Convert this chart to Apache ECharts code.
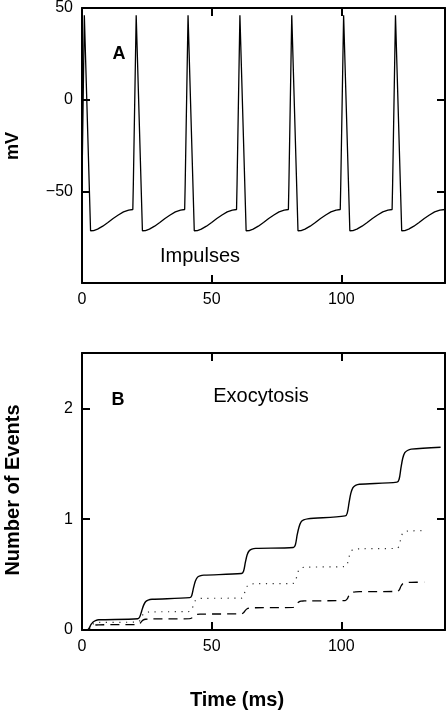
<!DOCTYPE html>
<html><head><meta charset="utf-8">
<script src="https://cdn.jsdelivr.net/npm/echarts@6/dist/echarts.min.js"></script>
<style>html,body{margin:0;padding:0;background:#fff}#c{width:448px;height:713px}</style>
</head><body><div id="c"></div>
<script>
// Panel A: membrane potential (ms, mV)
const vmT = [0,0.9,3.3,4.5,6,8,10,12,14,16,18,19.6,
  19.8,20.9,23.3,24.5,26,28,30,32,34,36,38,39.6,
  39.8,40.9,43.3,44.5,46,48,50,52,54,56,58,59.6,
  59.8,60.9,63.3,64.5,66,68,70,72,74,76,78,79.6,
  79.8,80.9,83.3,84.5,86,88,90,92,94,96,98,99.6,
  99.8,100.9,103.3,104.5,106,108,110,112,114,116,118,119.6,
  119.8,120.9,123.3,124.5,126,128,130,132,134,136,138,140];
const vmV = [-46,46,-71.5,-71.4,-70.6,-69.0,-67.0,-64.8,-62.9,-61.2,-60.2,-59.9,
  -46,46,-71.5,-71.4,-70.6,-69.0,-67.0,-64.8,-62.9,-61.2,-60.2,-59.9,
  -46,46,-71.5,-71.4,-70.6,-69.0,-67.0,-64.8,-62.9,-61.2,-60.2,-59.9,
  -46,46,-71.5,-71.4,-70.6,-69.0,-67.0,-64.8,-62.9,-61.2,-60.2,-59.9,
  -46,46,-71.5,-71.4,-70.6,-69.0,-67.0,-64.8,-62.9,-61.2,-60.2,-59.9,
  -46,46,-71.5,-71.4,-70.6,-69.0,-67.0,-64.8,-62.9,-61.2,-60.2,-59.9,
  -46,46,-71.5,-71.4,-70.6,-69.0,-67.0,-64.8,-62.9,-61.2,-60.2,-59.9];

// Panel B: cumulative exocytosis events
const solidT = [0,2,2.8,3.5,4.3,5.2,6.5,21.5,22.3,23,23.7,24.5,25.5,27,41.5,42.3,43,43.7,44.5,45.5,47,61.5,
  62.3,63,63.7,64.5,65.5,67,81.5,82.3,83,83.7,84.5,85.5,87,101.5,102.3,103,103.7,104.5,105.5,107,121.5,
  122.3,123,123.7,124.5,125.5,127,138.3];
const solidN = [0,0,0.02,0.05,0.072,0.085,0.092,0.102,0.12,0.17,0.22,0.255,0.27,0.277,0.292,0.31,0.38,0.44,0.475,0.488,0.495,0.51,
  0.53,0.61,0.68,0.715,0.73,0.737,0.745,0.77,0.86,0.93,0.975,0.993,1.003,1.03,1.055,1.15,1.235,1.285,1.305,1.315,1.335,
  1.36,1.46,1.55,1.6,1.62,1.632,1.65];
const dottedT = [0,2,2.8,3.5,4.3,5.2,6.5,21.5,22.3,23,23.7,24.5,25.5,27,41.5,42.3,43,43.7,44.5,45.5,47,61.5,
  62.3,63,63.7,64.5,65.5,67,81.5,82.3,83,83.7,84.5,85.5,87,101.5,102.3,103,103.7,104.5,105.5,107,121.5,
  122.3,123,123.7,124.5,125.5,127,131.5];
const dottedN = [0,0,0.015,0.04,0.055,0.064,0.068,0.072,0.085,0.12,0.145,0.157,0.162,0.164,0.167,0.18,0.23,0.265,0.278,0.284,0.286,0.288,
  0.305,0.36,0.395,0.41,0.416,0.418,0.42,0.44,0.5,0.545,0.56,0.566,0.568,0.572,0.595,0.66,0.71,0.725,0.731,0.733,0.737,
  0.76,0.83,0.875,0.888,0.893,0.895,0.897];
const dashedT = [0,2,2.8,3.5,4.3,5.2,6.5,21.5,22.3,23,23.7,24.5,25.5,27,41.5,42.3,43,43.7,44.5,45.5,47,61.5,
  62.3,63,63.7,64.5,65.5,67,81.5,82.3,83,83.7,84.5,85.5,87,101.5,102.3,103,103.7,104.5,105.5,107,121.5,
  122.3,123,123.7,124.5,125.5,127,132];
const dashedN = [0,0,0.012,0.03,0.04,0.045,0.047,0.05,0.058,0.078,0.092,0.097,0.099,0.1,0.102,0.108,0.125,0.137,0.141,0.143,0.144,0.146,
  0.155,0.177,0.192,0.198,0.2,0.201,0.204,0.215,0.24,0.254,0.26,0.262,0.263,0.266,0.28,0.315,0.335,0.342,0.345,0.346,0.348,
  0.36,0.395,0.418,0.426,0.429,0.43,0.432];

const xTicks = [0, 50, 100];
const yTicksA = [50, 0, -50];
const yTicksB = [0, 1, 2];

const zip = (a, b) => a.map((v, i) => [v, b[i]]);
const FONT = 'Liberation Sans';
const minus = v => String(v).replace('-', '\u2212');

function xAx(gi, pos, labels) {
  return {
    type: 'value', gridIndex: gi, position: pos, min: 0, max: 140, interval: 50,
    axisLine: {show: true, onZero: false, lineStyle: {color: '#000', width: 2}},
    axisTick: {show: true, inside: true, length: 8, lineStyle: {color: '#000', width: 2}},
    axisLabel: {show: labels, margin: 9, color: '#000', fontFamily: FONT, fontSize: 16,
      formatter: v => xTicks.includes(v) ? String(v) : ''},
    splitLine: {show: false}
  };
}
function yAx(gi, pos, labels, min, max, interval, ticks) {
  return {
    type: 'value', gridIndex: gi, position: pos, min: min, max: max, interval: interval,
    axisLine: {show: true, onZero: false, lineStyle: {color: '#000', width: 2}},
    axisTick: {show: true, inside: true, length: 8, lineStyle: {color: '#000', width: 2}},
    axisLabel: {show: labels, margin: 9, color: '#000', fontFamily: FONT, fontSize: 16,
      formatter: v => ticks.includes(v) ? minus(v) : ''},
    splitLine: {show: false}
  };
}

const chart = echarts.init(document.getElementById('c'), null, {renderer: 'canvas'});
chart.setOption({
  animation: false,
  backgroundColor: '#fff',
  grid: [
    {left: 82, top: 6, width: 364, height: 277},
    {left: 82, top: 353, width: 364, height: 277}
  ],
  xAxis: [xAx(0, 'bottom', true), xAx(0, 'top', false), xAx(1, 'bottom', true), xAx(1, 'top', false)],
  yAxis: [
    yAx(0, 'left', true, -100, 50, 50, yTicksA), yAx(0, 'right', false, -100, 50, 50, yTicksA),
    yAx(1, 'left', true, 0, 2.5, 1, yTicksB), yAx(1, 'right', false, 0, 2.5, 1, yTicksB)
  ],
  series: [
    {type: 'line', xAxisIndex: 0, yAxisIndex: 0, data: zip(vmT, vmV), showSymbol: false,
      lineStyle: {color: '#000', width: 1.3}},
    {type: 'line', xAxisIndex: 2, yAxisIndex: 2, data: zip(solidT, solidN), showSymbol: false, smooth: 0.3,
      lineStyle: {color: '#000', width: 1.4}},
    {type: 'line', xAxisIndex: 2, yAxisIndex: 2, data: zip(dottedT, dottedN), showSymbol: false, smooth: 0.3,
      lineStyle: {color: '#333', width: 1.2, type: [1.2, 5.5]}},
    {type: 'line', xAxisIndex: 2, yAxisIndex: 2, data: zip(dashedT, dashedN), showSymbol: false, smooth: 0.3,
      lineStyle: {color: '#000', width: 1.3, type: [9, 6]}}
  ],
  graphic: [
    {type: 'text', x: 13, y: 146, rotation: Math.PI / 2,
      style: {text: 'mV', font: 'bold 18px "Liberation Sans"', fill: '#000', align: 'center', verticalAlign: 'middle'}},
    {type: 'text', x: 13, y: 490, rotation: Math.PI / 2,
      style: {text: 'Number of Events', font: 'bold 20px "Liberation Sans"', fill: '#000', align: 'center', verticalAlign: 'middle'}},
    {type: 'text', x: 237, y: 700,
      style: {text: 'Time (ms)', font: 'bold 20px "Liberation Sans"', fill: '#000', align: 'center', verticalAlign: 'middle'}},
    {type: 'text', x: 119, y: 54,
      style: {text: 'A', font: 'bold 18px "Liberation Sans"', fill: '#000', align: 'center', verticalAlign: 'middle'}},
    {type: 'text', x: 118, y: 400,
      style: {text: 'B', font: 'bold 18px "Liberation Sans"', fill: '#000', align: 'center', verticalAlign: 'middle'}},
    {type: 'text', x: 200, y: 256,
      style: {text: 'Impulses', font: '20px "Liberation Sans"', fill: '#000', align: 'center', verticalAlign: 'middle'}},
    {type: 'text', x: 261, y: 396,
      style: {text: 'Exocytosis', font: '20px "Liberation Sans"', fill: '#000', align: 'center', verticalAlign: 'middle'}}
  ]
});
</script>
</body></html>
